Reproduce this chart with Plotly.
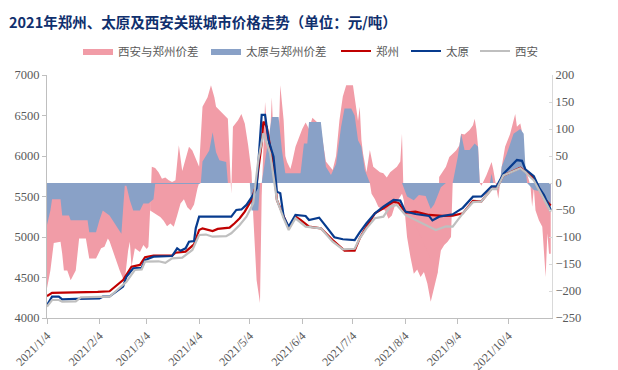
import plotly.graph_objects as go

# ---------------- data ----------------
zz_dates = ["2021-01-04","2021-01-07","2021-02-03","2021-02-10","2021-02-18","2021-02-23","2021-02-28",
            "2021-03-03","2021-03-08","2021-03-19","2021-03-21","2021-03-27","2021-04-01","2021-04-04",
            "2021-04-06","2021-04-12","2021-04-15","2021-04-22","2021-04-25","2021-04-28","2021-05-01",
            "2021-05-05","2021-05-08","2021-05-11","2021-05-12","2021-05-14","2021-05-16","2021-05-18",
            "2021-05-20","2021-05-24","2021-05-27","2021-05-31","2021-06-03","2021-06-08","2021-06-15",
            "2021-06-22","2021-06-29","2021-07-05","2021-07-08","2021-07-12","2021-07-17","2021-07-22",
            "2021-07-28","2021-07-31","2021-08-04","2021-08-10","2021-08-18","2021-08-26","2021-09-01",
            "2021-09-07","2021-09-13","2021-09-18","2021-09-24","2021-09-27","2021-10-01","2021-10-11",
            "2021-10-14","2021-10-19","2021-10-25","2021-10-29"]
zz_price = [4270,4310,4322,4330,4469,4634,4655,
            4750,4770,4770,4806,4819,4910,5087,
            5107,5074,5100,5115,5169,5231,5313,
            5457,5663,6157,6425,6363,6116,5910,
            5457,5251,5107,5251,5210,5128,5107,
            4963,4831,4831,4984,5128,5292,5354,
            5436,5420,5300,5313,5272,5260,5265,
            5292,5445,5440,5595,5600,5760,5855,
            5807,5730,5478,5390]

ty_dates = ["2021-01-04","2021-01-07","2021-01-11","2021-01-13","2021-01-21","2021-02-04","2021-02-06",
            "2021-02-10","2021-02-18","2021-02-20","2021-02-24","2021-03-01","2021-03-03","2021-03-08",
            "2021-03-19","2021-03-22","2021-03-24","2021-03-27","2021-03-29","2021-04-01","2021-04-02",
            "2021-04-04","2021-04-23","2021-04-26","2021-04-29","2021-05-02","2021-05-06","2021-05-08",
            "2021-05-11","2021-05-13","2021-05-15","2021-05-18","2021-05-20","2021-05-22","2021-05-24",
            "2021-05-27","2021-05-31","2021-06-06","2021-06-08","2021-06-14","2021-06-19","2021-06-23",
            "2021-06-28","2021-07-05","2021-07-08","2021-07-12","2021-07-17","2021-07-22","2021-07-28",
            "2021-08-01","2021-08-04","2021-08-10","2021-08-18","2021-08-20","2021-08-24","2021-09-01",
            "2021-09-07","2021-09-13","2021-09-18","2021-09-24","2021-09-27","2021-10-01","2021-10-09",
            "2021-10-12","2021-10-14","2021-10-19","2021-10-22","2021-10-25","2021-10-29"]
ty_price = [4160,4263,4263,4231,4235,4243,4263,
            4265,4387,4510,4614,4620,4716,4757,
            4765,4860,4830,4860,4942,4950,5107,
            5251,5251,5334,5340,5396,5519,5602,
            6507,6507,6198,5992,5560,5540,5251,
            5128,5272,5260,5210,5239,5107,4997,
            4972,4963,5058,5169,5292,5375,5457,
            5450,5313,5284,5260,5205,5251,5280,
            5360,5498,5500,5625,5625,5780,5950,
            5940,5835,5750,5614,5519,5334]

xa_dates = ["2021-01-04","2021-01-07","2021-01-11","2021-01-13","2021-01-21","2021-01-24","2021-02-10",
            "2021-02-20","2021-02-25","2021-03-01","2021-03-03","2021-03-11","2021-03-15","2021-03-19",
            "2021-03-25","2021-03-31","2021-04-04","2021-04-08","2021-04-12","2021-04-20","2021-04-23",
            "2021-04-28","2021-05-02","2021-05-06","2021-05-09","2021-05-12","2021-05-16","2021-05-20",
            "2021-05-24","2021-05-27","2021-05-31","2021-06-06","2021-06-15","2021-06-22","2021-06-28",
            "2021-07-05","2021-07-08","2021-07-12","2021-07-17","2021-07-22","2021-07-26","2021-07-30",
            "2021-08-04","2021-08-10","2021-08-18","2021-08-22","2021-08-28","2021-09-01","2021-09-07",
            "2021-09-13","2021-09-18","2021-09-24","2021-09-27","2021-10-01","2021-10-11","2021-10-14",
            "2021-10-19","2021-10-25","2021-10-29"]
xa_price = [4140,4222,4222,4201,4205,4255,4263,
            4448,4593,4600,4696,4700,4680,4737,
            4745,4840,5025,5030,5004,5010,5046,
            5149,5251,5416,5951,6281,6034,5457,
            5230,5087,5231,5128,5107,4943,4848,
            4855,4984,5107,5231,5251,5375,5395,
            5272,5210,5128,5087,5130,5128,5292,
            5430,5440,5590,5590,5760,5849,5800,
            5700,5457,5310]

# 西安与郑州价差 (upper / main envelope)
spread_xa_dates = [
    "2021-01-04","2021-01-06","2021-01-08","2021-01-12","2021-01-13","2021-01-14","2021-01-16",
    "2021-01-18","2021-01-21","2021-01-22","2021-01-23","2021-01-27","2021-01-29","2021-02-02",
    "2021-02-05","2021-02-07","2021-02-09","2021-02-10","2021-02-13","2021-02-16","2021-02-18",
    "2021-02-19","2021-02-21","2021-02-22","2021-02-23","2021-02-25","2021-02-28","2021-03-02",
    "2021-03-04","2021-03-05","2021-03-06","2021-03-07","2021-03-09","2021-03-11","2021-03-13",
    "2021-03-15","2021-03-17","2021-03-19","2021-03-21","2021-03-23","2021-03-25","2021-03-27",
    "2021-03-29","2021-03-31","2021-04-02","2021-04-04","2021-04-06","2021-04-09","2021-04-11",
    "2021-04-13","2021-04-14","2021-04-21","2021-04-23","2021-04-24","2021-04-27","2021-04-29",
    "2021-05-01","2021-05-03","2021-05-05","2021-05-06","2021-05-08","2021-05-10","2021-05-11",
    "2021-05-13","2021-05-14","2021-05-15","2021-05-17","2021-05-19","2021-05-20","2021-05-21",
    "2021-05-22","2021-05-24","2021-05-25","2021-05-26","2021-05-28","2021-05-29","2021-05-31",
    "2021-06-04","2021-06-06","2021-06-08","2021-06-10","2021-06-13","2021-06-15","2021-06-18",
    "2021-06-20","2021-06-22","2021-06-24","2021-06-26","2021-06-28","2021-06-30","2021-07-04",
    "2021-07-06","2021-07-07","2021-07-08","2021-07-09","2021-07-10","2021-07-12","2021-07-14",
    "2021-07-16","2021-07-18","2021-07-20","2021-07-22","2021-07-24","2021-07-26","2021-07-28",
    "2021-07-30","2021-08-01","2021-08-02","2021-08-03","2021-08-05","2021-08-07","2021-08-09",
    "2021-08-11","2021-08-13","2021-08-15","2021-08-17","2021-08-19","2021-08-21","2021-08-23",
    "2021-08-24","2021-08-26","2021-08-28","2021-08-30","2021-09-01","2021-09-03","2021-09-05",
    "2021-09-06","2021-09-08","2021-09-11","2021-09-13","2021-09-14","2021-09-15","2021-09-16",
    "2021-09-17","2021-09-18","2021-09-21","2021-09-23","2021-09-24","2021-09-25","2021-09-26",
    "2021-09-28","2021-09-29","2021-09-30","2021-10-02","2021-10-05","2021-10-08","2021-10-09",
    "2021-10-11","2021-10-12","2021-10-13","2021-10-15","2021-10-17","2021-10-18","2021-10-19",
    "2021-10-20","2021-10-22","2021-10-24","2021-10-26","2021-10-27","2021-10-28","2021-10-29"]
spread_xa = [
    -195,-162,-111,-109,-131,-162,-162,
    -180,-162,-125,-103,-103,-140,-140,
    -121,-118,-103,-108,-137,-162,-177,
    -180,-125,-109,-155,-121,-128,-115,
    -122,-118,-51,30,28,20,8,
    10,5,2,5,70,22,45,
    67,60,45,30,141,159,181,
    159,141,119,-20,104,116,128,
    110,70,20,-60,-180,-222,-24,
    150,110,18,159,5,-26,98,
    181,116,50,39,26,38,67,
    100,112,100,121,112,100,40,
    33,24,50,116,160,181,181,
    141,115,141,80,54,20,61,
    30,25,20,18,10,20,25,
    30,40,91,-30,-100,-137,-168,
    -160,-174,-165,-186,-220,-195,-168,
    11,20,30,48,54,60,70,
    91,90,98,107,119,100,67,
    0,-5,15,33,39,25,5,
    -29,0,30,67,91,128,104,
    110,95,30,17,-5,-44,-10,
    -51,-69,-81,-174,-93,-131,-131]

# 西安与郑州价差 (lower envelope where the daily spread swings around zero)
spread_xa_low_dates = [
    "2021-03-06","2021-03-08","2021-03-10","2021-03-12","2021-03-14","2021-03-16","2021-03-18",
    "2021-03-20","2021-03-22","2021-03-24","2021-03-26","2021-03-28","2021-03-30","2021-04-01",
    "2021-04-03","2021-04-04","2021-04-05",
    "2021-07-14","2021-07-15","2021-07-17","2021-07-19","2021-07-21","2021-07-23","2021-07-25",
    "2021-07-27","2021-07-29","2021-07-31","2021-08-02","2021-08-03","2021-08-04",
    "2021-08-23","2021-08-25","2021-08-27","2021-08-29","2021-08-31","2021-09-01"]
spread_xa_low = [
    -51,-55,-60,-63,-70,-80,-75,
    -81,-60,-38,-30,-45,-51,-40,
    -10,0,None,
    0,-20,-30,-44,-48,-51,-66,
    -60,-40,-30,-20,-30,None,
    -168,-125,-115,-109,-100,0]

spread_ty_dates = ["2021-01-04","2021-01-06","2021-01-07","2021-01-12","2021-01-13","2021-01-17","2021-01-18",
                   "2021-01-28","2021-01-29","2021-02-02","2021-02-04","2021-02-06","2021-02-10","2021-02-17",
                   "2021-02-19","2021-02-20","2021-02-22","2021-02-24","2021-02-28","2021-03-02","2021-03-05",
                   "2021-03-08","2021-03-09","2021-04-04","2021-04-05","2021-04-06","2021-04-10","2021-04-12",
                   "2021-04-14","2021-04-16","2021-04-20","2021-04-21","2021-05-04","2021-05-05","2021-05-09",
                   "2021-05-10","2021-05-11","2021-05-14","2021-05-17","2021-05-21","2021-05-23","2021-05-25",
                   "2021-06-03","2021-06-05","2021-06-07","2021-06-08","2021-06-15","2021-06-18","2021-06-21",
                   "2021-06-24","2021-06-27","2021-06-29","2021-07-03","2021-07-05","2021-07-07","2021-07-09",
                   "2021-07-11","2021-07-14","2021-08-02","2021-08-05","2021-08-09","2021-08-12","2021-08-16",
                   "2021-08-19","2021-08-21","2021-08-23","2021-08-25","2021-08-28","2021-09-01","2021-09-04",
                   "2021-09-06","2021-09-08","2021-09-11","2021-09-14","2021-09-16","2021-09-17","2021-09-23",
                   "2021-09-24","2021-09-25","2021-09-29","2021-09-30","2021-10-03","2021-10-07","2021-10-11",
                   "2021-10-13","2021-10-14","2021-10-15","2021-10-19","2021-10-22","2021-10-25","2021-10-28",
                   "2021-10-29"]
spread_ty = [-78,-51,-30,-30,-60,-60,-69,
             -69,-91,-91,-69,-51,-60,-94,
             -5,-5,-32,-51,-51,-38,-38,
             -30,-2,-2,0,40,60,94,
             57,42,39,0,0,-51,-51,
             0,0,60,122,122,60,18,
             18,73,73,113,113,30,15,
             35,104,138,138,125,79,67,
             24,0,0,-25,-32,-22,-24,
             -48,-40,-24,-8,0,0,48,
             91,61,61,73,67,0,0,
             17,0,0,30,54,91,100,
             91,30,0,-13,-15,-32,-51,
             -51]

x_tickvals = ["2021-01-04","2021-02-04","2021-03-04","2021-04-04","2021-05-04",
              "2021-06-04","2021-07-04","2021-08-04","2021-09-04","2021-10-04"]
x_ticktext = ["2021/1/4","2021/2/4","2021/3/4","2021/4/4","2021/5/4",
              "2021/6/4","2021/7/4","2021/8/4","2021/9/4","2021/10/4"]

title_text = "2021年郑州、太原及西安关联城市价格走势（单位：元/吨）"

# ---------------- styles ----------------
PINK = "rgb(241,156,167)"
BLUEFILL = "rgb(137,161,199)"
RED = "#C00000"
NAVY = "#073B8E"
GRAY = "#BFBFBF"
AX = "#BFBFBF"
TXT = "#595959"
CJK = "Noto Sans CJK SC"
SERIF = "Liberation Serif"

fig = go.Figure()
fig.add_trace(go.Scatter(x=spread_xa_dates, y=spread_xa, name="西安与郑州价差", mode="lines",
                         line=dict(width=0, color=PINK), fill="tozeroy", fillcolor=PINK, yaxis="y",
                         legendgroup="xa", legendwidth=83))
fig.add_trace(go.Scatter(x=spread_xa_low_dates, y=spread_xa_low, name="西安与郑州价差", mode="lines",
                         line=dict(width=0, color=PINK), fill="tozeroy", fillcolor=PINK, yaxis="y",
                         legendgroup="xa", showlegend=False, connectgaps=False))
fig.add_trace(go.Scatter(x=spread_ty_dates, y=spread_ty, name="太原与郑州价差", mode="lines",
                         line=dict(width=0, color=BLUEFILL), fill="tozeroy", fillcolor=BLUEFILL, yaxis="y",
                         legendwidth=85))
fig.add_trace(go.Scatter(x=zz_dates, y=zz_price, name="郑州", mode="lines",
                         line=dict(width=2.2, color=RED), yaxis="y2", legendwidth=25))
fig.add_trace(go.Scatter(x=ty_dates, y=ty_price, name="太原", mode="lines",
                         line=dict(width=2.2, color=NAVY), yaxis="y2", legendwidth=24))
fig.add_trace(go.Scatter(x=xa_dates, y=xa_price, name="西安", mode="lines",
                         line=dict(width=2.2, color=GRAY), yaxis="y2", legendwidth=24))

fig.update_layout(
    template="none",
    width=618, height=370,
    paper_bgcolor="white", plot_bgcolor="white",
    margin=dict(l=47, r=66, t=75, b=52, autoexpand=False),
    title=dict(text=title_text, x=9/618, xanchor="left", xref="container",
               y=1-23/370, yanchor="middle", yref="container",
               font=dict(family=CJK, size=14.5, color="#10306E", weight="bold")),
    legend=dict(orientation="h", xref="container", yref="container",
                x=78/618, xanchor="left", y=1-51/370, yanchor="middle",
                font=dict(family=CJK, size=11.5, color=TXT),
                itemwidth=30, bgcolor="rgba(0,0,0,0)", tracegroupgap=0),
    showlegend=True,
    xaxis=dict(type="date", range=["2021-01-04", "2021-10-29 18:00"],
               tickvals=x_tickvals, ticktext=x_ticktext, tickangle=-45,
               showline=True, linecolor=AX, linewidth=1,
               ticks="outside", ticklen=5, tickcolor=AX,
               showgrid=False, zeroline=False, automargin=False,
               tickfont=dict(family=SERIF, size=12, color=TXT)),
    yaxis=dict(side="right", range=[-250, 200], dtick=50,
               showline=True, linecolor="#D9D9D9", linewidth=1,
               ticks="inside", ticklen=3, tickcolor="#D9D9D9",
               showgrid=False, zeroline=False, automargin=False,
               tickfont=dict(family=SERIF, size=12.5, color=TXT)),
    yaxis2=dict(side="left", overlaying="y", range=[4000, 7000], dtick=500,
                showline=True, linecolor=AX, linewidth=1,
                ticks="outside", ticklen=4, tickcolor=AX,
                showgrid=False, zeroline=False, automargin=False,
                tickfont=dict(family=SERIF, size=12.5, color=TXT)),
)

fig.write_html("out.html", config={"displayModeBar": False},
               post_script="document.body.style.margin='0';")
